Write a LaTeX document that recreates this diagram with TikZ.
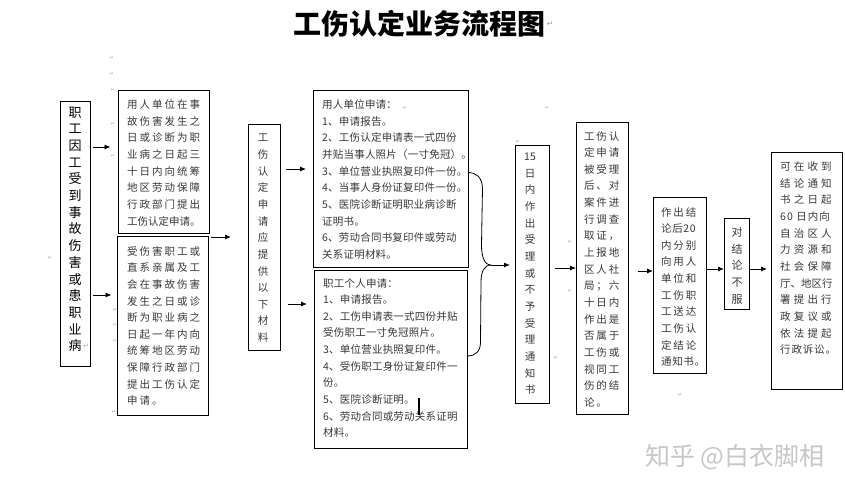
\documentclass[tikz,border=0pt]{standalone}
\usepackage{fontspec}
\setmainfont{Noto Sans CJK SC}
\newfontfamily\pmfont{DejaVu Sans}
\usetikzlibrary{arrows.meta}
\definecolor{ink}{gray}{0.22}
\tikzset{
  x=1pt,y=-1pt,
  box/.style={draw=black,line width=1pt,fill=white,anchor=north west,inner sep=0pt,outer sep=0pt},
  stack/.style={anchor=north,inner sep=0pt,align=center,text=ink,font=\fontsize{10.5pt}{16.65pt}\selectfont},
  para/.style={anchor=north west,inner sep=0pt,align=left,text=ink,font=\fontsize{10.5pt}{16.65pt}\selectfont\addfontfeature{LetterSpace=#1}},
  arr/.style={draw=black,line width=0.9pt,-{Latex[length=6pt,width=5pt]}},
  brace/.style={draw=black,line width=0.8pt},
  pm/.style={inner sep=0pt,text=black!35,font=\pmfont\fontsize{5pt}{5pt}\selectfont},
}
\newcommand{\bx}[5]{\node[box,minimum width=#4-#2,minimum height=#5-#3] (#1) at (#2,#3) {};}
\begin{document}
\begin{tikzpicture}
\useasboundingbox (0,0) rectangle (845,490);
\fill[white] (0,0) rectangle (845,490);
\node[inner sep=0pt,font=\fontsize{28pt}{30pt}\selectfont\bfseries] (title) at (419.5,24) {工伤认定业务流程图};
\node[pm,font=\pmfont\fontsize{8pt}{8pt}\selectfont,anchor=west] at ([xshift=1pt]title.east) {↵};

\bx{A}{60}{101}{90}{366}
\bx{B}{118}{90}{209}{233}
\bx{C}{117}{236}{208}{415}
\bx{D}{248}{124}{280}{350}
\bx{E}{313}{90}{468}{267}
\bx{F}{314}{270}{467}{448}
\bx{G}{515}{145}{549}{403}
\bx{H}{576}{122}{628}{414}
\bx{I}{653}{197}{706}{373}
\bx{J}{724}{218}{749}{309}
\bx{K}{771}{152}{842}{389}

\node[stack,font=\fontsize{13pt}{16.7pt}\selectfont,text=black] (At) at (75,106.5) {职\\工\\因\\工\\受\\到\\事\\故\\伤\\害\\或\\患\\职\\业\\病};
\node[para=19] (Bt) at (127,99.5) {用人单位在事\\故伤害发生之\\日或诊断为职\\业病之日起三\\十日内向统筹\\地区劳动保障\\行政部门提出\\\addfontfeature{LetterSpace=0}工伤认定申请。};
\node[para=19] (Ct) at (127,246) {受伤害职工或\\直系亲属及工\\会在事故伤害\\发生之日或诊\\断为职业病之\\日起一年内向\\统筹地区劳动\\保障行政部门\\提出工伤认定\\申请。};
\node[stack] (Dt) at (263,134) {工\\伤\\认\\定\\申\\请\\应\\提\\供\\以\\下\\材\\料};
\node[para=2] (Et) at (322,99.5) {用人单位申请：\\1、申请报告。\\2、工伤认定申请表一式四份\\并贴当事人照片（一寸免冠）。\\3、单位营业执照复印件一份。\\4、当事人身份证复印件一份。\\5、医院诊断证明职业病诊断\\证明书。\\6、劳动合同书复印件或劳动\\关系证明材料。};
\node[para=2] (Ft) at (323,278) {职工个人申请：\\1、申请报告。\\2、工伤申请表一式四份并贴\\受伤职工一寸免冠照片。\\3、单位营业执照复印件。\\4、受伤职工身份证复印件一\\份。\\5、医院诊断证明。\\6、劳动合同或劳动关系证明\\材料。};
\node[stack] (Gt) at (530,153) {15\\日\\内\\作\\出\\受\\理\\或\\不\\予\\受\\理\\通\\知\\书};
\node[para=17] (Ht) at (584,131) {工伤认\\定申请\\被受理\\后、对\\案件进\\行调查\\取证，\\上报地\\区人社\\局；六\\十日内\\作出是\\否属于\\工伤或\\视同工\\伤的结\\论。};
\node[para=17] (It) at (661,207) {作出结\\\addfontfeature{LetterSpace=6}论后20\\内分别\\向用人\\单位和\\工伤职\\工送达\\工伤认\\定结论\\\addfontfeature{LetterSpace=6}通知书。};
\node[stack,font=\fontsize{11pt}{16.65pt}\selectfont] (Jt) at (737,227) {对\\结\\论\\不\\服};
\node[para=30] (Kt) at (780,161.5) {可在收到\\结论通知\\书之日起\\\addfontfeature{LetterSpace=10}60 日内向\\自治区人\\力资源和\\社会保障\\\addfontfeature{LetterSpace=0}厅、地区行\\署提出行\\政复议或\\依法提起\\\addfontfeature{LetterSpace=8}行政诉讼。};

\draw[arr,shorten <=2.5pt,shorten >=7.5pt] (A.east |- 0,147) -- (B.west |- 0,147);
\draw[arr,shorten <=2.5pt,shorten >=5.5pt] (A.east |- 0,295) -- (C.west |- 0,295);
\draw[arr,shorten <=2pt,shorten >=17pt] (B.east |- 0,237) -- (D.west |- 0,237);
\draw[arr,shorten <=6pt,shorten >=7pt] (D.east |- 0,169) -- (E.west |- 0,169);
\draw[arr,shorten <=8pt,shorten >=7pt] (D.east |- 0,304) -- (F.west |- 0,304);

\coordinate (merge) at (491,265);
\draw[brace] (E.east |- 0,172.5) .. controls (476,172.5) and (482,177) .. (482.5,188) -- (481.5,245) .. controls (481.5,256) and (484,265) .. (merge);
\draw[brace] (F.east |- 0,356) .. controls (476,356) and (480.5,351) .. (480.5,342) -- (481,282) .. controls (481,272) and (484,265) .. (merge);
\draw[arr,shorten >=5pt] (merge) -- (G.west |- merge);

\draw[arr,shorten <=6pt] (G.east |- 0,268) -- (H.west |- 0,268);
\draw[arr,shorten <=10pt] (H.east |- 0,271) -- (I.west |- 0,271);
\draw[arr,shorten <=1pt] (I.east |- 0,269) -- (J.west |- 0,269);
\draw[arr,shorten <=1pt,shorten >=4pt] (J.east |- 0,269) -- (K.west |- 0,269);

\coordinate (barT) at (419,398);
\coordinate (barB) at (419,415);
\draw[line width=1.6pt] (barT) -- (barB);

\node[pm] at (50,258) {↵};
\node[pm] at (112,58) {↵};
\node[pm] at (112,74) {↵};
\node[pm] at (113,90) {↵};
\node[pm] at (113,124) {↵};
\node[pm] at (113,156) {↵};
\node[pm] at (115,310) {↵};
\node[pm] at (115,325) {↵};
\node[pm] at (115,341) {↵};
\node[pm] at (114,412) {↵};
\node[pm,font=\pmfont\fontsize{7pt}{7pt}\selectfont] at (86,346) {↵};
\node[pm] at (547,108) {↵};
\node[pm] at (518,142) {↵};
\node[pm] at (570,242) {↵};
\node[pm] at (570,291) {↵};
\node[pm] at (556,358) {↵};
\node[pm] at (405,108) {↵};
\node[pm] at (680,395) {↵};

\node[inner sep=0pt,text=black!22,font=\fontsize{25pt}{28pt}\selectfont] (wm) at (735,457) {知乎 @白衣脚相};
\end{tikzpicture}
\end{document}
